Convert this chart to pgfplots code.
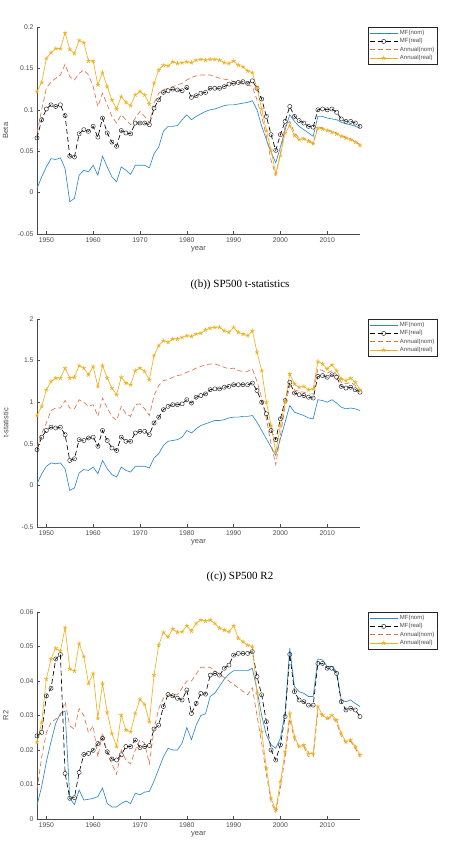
\documentclass[border=0pt]{standalone}
\usepackage{fontspec}
\setmainfont{Liberation Sans}
\newfontfamily\titlefont{Liberation Serif}
\usepackage{pgfplots}
\usepackage{pgfplotstable}
\pgfplotsset{compat=1.18}
\definecolor{mblue}{HTML}{2B8ACB}
\definecolor{mred}{HTML}{E0704A}
\definecolor{myel}{HTML}{EDB120}
\definecolor{axgray}{HTML}{4A4A4A}

\pgfplotstableread{
year mfn mfr an ar
1948 0.005 0.066 0.072 0.122
1949 0.019 0.088 0.100 0.133
1950 0.031 0.101 0.126 0.162
1951 0.041 0.106 0.134 0.169
1952 0.040 0.104 0.138 0.174
1953 0.042 0.106 0.142 0.174
1954 0.029 0.093 0.155 0.193
1955 -0.011 0.044 0.140 0.173
1956 -0.007 0.043 0.136 0.168
1957 0.021 0.071 0.144 0.184
1958 0.027 0.076 0.148 0.181
1959 0.025 0.074 0.142 0.159
1960 0.033 0.080 0.128 0.159
1961 0.021 0.067 0.104 0.130
1962 0.044 0.090 0.120 0.145
1963 0.031 0.072 0.106 0.128
1964 0.019 0.061 0.092 0.112
1965 0.013 0.056 0.084 0.101
1966 0.031 0.075 0.094 0.116
1967 0.027 0.072 0.088 0.109
1968 0.022 0.071 0.082 0.105
1969 0.033 0.084 0.090 0.118
1970 0.033 0.084 0.098 0.122
1971 0.033 0.084 0.092 0.118
1972 0.030 0.082 0.084 0.107
1973 0.047 0.102 0.108 0.132
1974 0.055 0.112 0.120 0.148
1975 0.074 0.121 0.124 0.154
1976 0.080 0.123 0.126 0.153
1977 0.080 0.125 0.128 0.158
1978 0.081 0.124 0.130 0.156
1979 0.088 0.123 0.132 0.157
1980 0.094 0.127 0.136 0.158
1981 0.088 0.115 0.139 0.157
1982 0.092 0.117 0.141 0.160
1983 0.095 0.120 0.142 0.161
1984 0.098 0.121 0.142 0.160
1985 0.100 0.126 0.142 0.161
1986 0.101 0.126 0.140 0.161
1987 0.103 0.126 0.138 0.160
1988 0.105 0.128 0.137 0.157
1989 0.106 0.131 0.136 0.156
1990 0.106 0.132 0.134 0.159
1991 0.107 0.133 0.133 0.154
1992 0.108 0.134 0.131 0.152
1993 0.109 0.132 0.130 0.147
1994 0.111 0.135 0.128 0.145
1995 0.100 0.126 0.112 0.126
1996 0.080 0.113 0.092 0.101
1997 0.064 0.092 0.068 0.075
1998 0.049 0.070 0.039 0.051
1999 0.036 0.051 0.021 0.023
2000 0.055 0.070 0.047 0.045
2001 0.076 0.086 0.080 0.072
2002 0.094 0.104 0.086 0.081
2003 0.086 0.092 0.072 0.069
2004 0.080 0.087 0.066 0.064
2005 0.076 0.084 0.066 0.065
2006 0.072 0.080 0.063 0.062
2007 0.068 0.079 0.060 0.059
2008 0.092 0.100 0.080 0.078
2009 0.092 0.101 0.078 0.077
2010 0.090 0.100 0.076 0.075
2011 0.089 0.101 0.074 0.073
2012 0.088 0.097 0.072 0.071
2013 0.085 0.089 0.069 0.068
2014 0.083 0.086 0.067 0.066
2015 0.082 0.086 0.065 0.064
2016 0.080 0.084 0.062 0.061
2017 0.078 0.080 0.058 0.057
}\betatab

\pgfplotstableread{
year mfn mfr an ar
1948 0.02 0.43 0.45 0.84
1949 0.14 0.58 0.62 0.95
1950 0.23 0.66 0.75 1.15
1951 0.27 0.70 0.90 1.25
1952 0.26 0.69 0.93 1.29
1953 0.27 0.70 0.93 1.29
1954 0.20 0.61 1.02 1.41
1955 -0.06 0.30 0.93 1.29
1956 -0.03 0.32 0.92 1.30
1957 0.15 0.55 1.03 1.44
1958 0.19 0.54 1.00 1.41
1959 0.18 0.57 0.95 1.33
1960 0.22 0.58 0.97 1.43
1961 0.14 0.47 0.83 1.19
1962 0.30 0.66 1.05 1.44
1963 0.20 0.54 0.93 1.29
1964 0.13 0.45 0.83 1.17
1965 0.10 0.42 0.78 1.09
1966 0.22 0.58 0.95 1.30
1967 0.18 0.53 0.86 1.23
1968 0.16 0.53 0.83 1.21
1969 0.23 0.63 0.97 1.38
1970 0.23 0.65 0.98 1.41
1971 0.23 0.65 0.92 1.37
1972 0.21 0.61 0.84 1.27
1973 0.33 0.75 1.08 1.56
1974 0.38 0.82 1.20 1.68
1975 0.48 0.91 1.26 1.74
1976 0.53 0.95 1.27 1.72
1977 0.54 0.97 1.30 1.76
1978 0.55 0.97 1.32 1.76
1979 0.58 0.98 1.33 1.78
1980 0.66 1.03 1.36 1.80
1981 0.63 0.99 1.38 1.79
1982 0.68 1.06 1.41 1.82
1983 0.72 1.08 1.43 1.83
1984 0.74 1.10 1.45 1.87
1985 0.76 1.15 1.46 1.89
1986 0.78 1.16 1.46 1.90
1987 0.78 1.16 1.44 1.90
1988 0.79 1.18 1.42 1.86
1989 0.81 1.19 1.40 1.84
1990 0.82 1.21 1.41 1.90
1991 0.82 1.21 1.38 1.84
1992 0.83 1.21 1.37 1.82
1993 0.83 1.21 1.37 1.80
1994 0.84 1.23 1.40 1.86
1995 0.76 1.14 1.25 1.60
1996 0.66 1.00 1.05 1.38
1997 0.56 0.86 0.80 1.00
1998 0.46 0.66 0.50 0.72
1999 0.36 0.55 0.25 0.40
2000 0.56 0.80 0.60 0.72
2001 0.76 1.02 0.95 1.00
2002 0.96 1.24 1.20 1.34
2003 0.88 1.11 1.15 1.22
2004 0.86 1.09 1.13 1.18
2005 0.84 1.08 1.12 1.19
2006 0.81 1.06 1.10 1.15
2007 0.80 1.05 1.10 1.16
2008 1.03 1.31 1.40 1.49
2009 1.02 1.32 1.38 1.46
2010 1.00 1.30 1.35 1.40
2011 1.03 1.33 1.38 1.45
2012 0.99 1.30 1.33 1.38
2013 0.94 1.19 1.24 1.28
2014 0.92 1.17 1.22 1.26
2015 0.93 1.18 1.24 1.29
2016 0.92 1.15 1.20 1.24
2017 0.90 1.12 1.12 1.15
}\ttab

\pgfplotstableread{
year mfn mfr an ar
1948 0.0040 0.0241 0.0084 0.0222
1949 0.0094 0.0251 0.0180 0.0280
1950 0.0166 0.0357 0.0250 0.0406
1951 0.0224 0.0379 0.0280 0.0464
1952 0.0277 0.0464 0.0290 0.0495
1953 0.0306 0.0477 0.0300 0.0487
1954 0.0313 0.0132 0.0340 0.0555
1955 0.0060 0.0060 0.0270 0.0435
1956 0.0042 0.0062 0.0260 0.0429
1957 0.0084 0.0135 0.0320 0.0509
1958 0.0055 0.0187 0.0300 0.0471
1959 0.0057 0.0190 0.0250 0.0393
1960 0.0060 0.0199 0.0270 0.0422
1961 0.0065 0.0219 0.0180 0.0292
1962 0.0090 0.0234 0.0250 0.0393
1963 0.0045 0.0195 0.0190 0.0309
1964 0.0035 0.0174 0.0160 0.0248
1965 0.0035 0.0171 0.0130 0.0210
1966 0.0045 0.0186 0.0200 0.0301
1967 0.0052 0.0210 0.0170 0.0258
1968 0.0045 0.0210 0.0160 0.0253
1969 0.0075 0.0229 0.0200 0.0306
1970 0.0070 0.0207 0.0230 0.0347
1971 0.0078 0.0210 0.0220 0.0332
1972 0.0080 0.0213 0.0160 0.0282
1973 0.0110 0.0261 0.0260 0.0417
1974 0.0145 0.0272 0.0320 0.0504
1975 0.0180 0.0326 0.0350 0.0541
1976 0.0205 0.0361 0.0360 0.0528
1977 0.0200 0.0357 0.0360 0.0551
1978 0.0200 0.0350 0.0360 0.0541
1979 0.0220 0.0345 0.0380 0.0543
1980 0.0265 0.0374 0.0400 0.0560
1981 0.0230 0.0306 0.0400 0.0545
1982 0.0272 0.0335 0.0420 0.0567
1983 0.0300 0.0364 0.0440 0.0577
1984 0.0305 0.0362 0.0440 0.0574
1985 0.0355 0.0417 0.0440 0.0577
1986 0.0365 0.0422 0.0430 0.0567
1987 0.0385 0.0417 0.0420 0.0553
1988 0.0405 0.0437 0.0410 0.0548
1989 0.0420 0.0446 0.0400 0.0543
1990 0.0430 0.0475 0.0390 0.0560
1991 0.0430 0.0480 0.0380 0.0524
1992 0.0430 0.0480 0.0370 0.0514
1993 0.0430 0.0480 0.0360 0.0504
1994 0.0437 0.0485 0.0380 0.0500
1995 0.0374 0.0413 0.0300 0.0364
1996 0.0300 0.0360 0.0220 0.0253
1997 0.0243 0.0282 0.0130 0.0147
1998 0.0215 0.0200 0.0050 0.0060
1999 0.0205 0.0171 0.0020 0.0026
2000 0.0234 0.0215 0.0090 0.0108
2001 0.0310 0.0297 0.0180 0.0195
2002 0.0495 0.0477 0.0290 0.0306
2003 0.0384 0.0369 0.0230 0.0239
2004 0.0369 0.0345 0.0210 0.0210
2005 0.0364 0.0340 0.0210 0.0215
2006 0.0355 0.0330 0.0180 0.0190
2007 0.0355 0.0330 0.0180 0.0190
2008 0.0464 0.0451 0.0310 0.0326
2009 0.0461 0.0451 0.0300 0.0301
2010 0.0442 0.0437 0.0290 0.0292
2011 0.0442 0.0437 0.0295 0.0301
2012 0.0427 0.0422 0.0280 0.0287
2013 0.0345 0.0340 0.0240 0.0248
2014 0.0340 0.0316 0.0220 0.0224
2015 0.0345 0.0321 0.0225 0.0229
2016 0.0335 0.0316 0.0205 0.0210
2017 0.0326 0.0297 0.0180 0.0186
}\rtab

\pgfplotsset{
  mypanel/.style={
    scale only axis, width=323pt,
    xmin=1948, xmax=2017,
    axis lines=left,
    axis line style={-, draw=axgray, line width=0.5pt},
    tick align=inside, major tick length=2.5pt,
    every tick/.style={draw=axgray, line width=0.5pt},
    scaled y ticks=false,
    xtick={1950,1960,1970,1980,1990,2000,2010},
    xticklabels={1950,1960,1970,1980,1990,2000,2010},
    ticklabel style={font=\fontsize{6.8}{8}\selectfont, text=axgray},
    xlabel={year},
    xlabel style={font=\fontsize{7.5}{9}\selectfont, text=axgray, at={(axis description cs:0.5,-0.072)}, anchor=center},
    ylabel style={font=\fontsize{7.5}{9}\selectfont, text=axgray, at={(axis description cs:-0.097,0.5)}, anchor=center, rotate=0},
    legend style={at={(1.025,1.0)}, anchor=north west, font=\fontsize{6}{6.5}\selectfont,
      draw=black!85, line width=0.5pt, inner sep=1pt, row sep=-1.6pt, cells={anchor=west}, text=axgray},
    legend image code/.code={\draw[mark repeat=2, mark phase=2, #1] plot coordinates {(0pt,0pt) (14pt,0pt) (28pt,0pt)};},
    clip=false,
  },
  sblue/.style={draw=mblue, line width=0.65pt, no marks},
  sblack/.style={draw=black, line width=0.65pt, dash pattern=on 5pt off 3pt, mark=o, mark size=2.1pt, mark options={solid, draw=black!85, fill=none, line width=0.45pt}},
  sred/.style={draw=mred, line width=0.65pt, dash pattern=on 5pt off 3pt, no marks},
  syel/.style={draw=myel, line width=0.65pt, mark=star, mark size=2.2pt, mark options={solid, draw=myel, line width=0.65pt}},
}

\begin{document}
\begin{tikzpicture}
\path[use as bounding box] (0,0) rectangle (463pt,841pt);

\begin{axis}[mypanel, at={(37pt,607pt)}, anchor=south west, height=207pt,
  ymin=-0.05, ymax=0.2, ytick={-0.05,0,0.05,0.1,0.15,0.2},
  yticklabels={-0.05,0,0.05,0.1,0.15,0.2}, ylabel={Beta}]
\addplot[sblue] table[x=year, y=mfn] {\betatab};
\addplot[sblack] table[x=year, y=mfr] {\betatab};
\addplot[sred] table[x=year, y=an] {\betatab};
\addplot[syel] table[x=year, y=ar] {\betatab};
\legend{MF(nom),MF(real),Annual(nom),Annual(real)}
\end{axis}

\node[font=\titlefont\fontsize{11}{13}\selectfont] at (240pt,556pt) {((b)) SP500 t-statistics};

\begin{axis}[mypanel, at={(37pt,314pt)}, anchor=south west, height=208pt,
  ymin=-0.5, ymax=2, ytick={-0.5,0,0.5,1,1.5,2},
  yticklabels={-0.5,0,0.5,1,1.5,2}, ylabel={t-statistic}]
\addplot[sblue] table[x=year, y=mfn] {\ttab};
\addplot[sblack] table[x=year, y=mfr] {\ttab};
\addplot[sred] table[x=year, y=an] {\ttab};
\addplot[syel] table[x=year, y=ar] {\ttab};
\legend{MF(nom),MF(real),Annual(nom),Annual(real)}
\end{axis}

\node[font=\titlefont\fontsize{11}{13}\selectfont] at (240pt,264pt) {((c)) SP500 R2};

\begin{axis}[mypanel, at={(37pt,22pt)}, anchor=south west, height=207pt,
  ymin=0, ymax=0.06, ytick={0,0.01,0.02,0.03,0.04,0.05,0.06},
  yticklabels={0,0.01,0.02,0.03,0.04,0.05,0.06}, ylabel={R2}]
\addplot[sblue] table[x=year, y=mfn] {\rtab};
\addplot[sblack] table[x=year, y=mfr] {\rtab};
\addplot[sred] table[x=year, y=an] {\rtab};
\addplot[syel] table[x=year, y=ar] {\rtab};
\legend{MF(nom),MF(real),Annual(nom),Annual(real)}
\end{axis}
\end{tikzpicture}
\end{document}
